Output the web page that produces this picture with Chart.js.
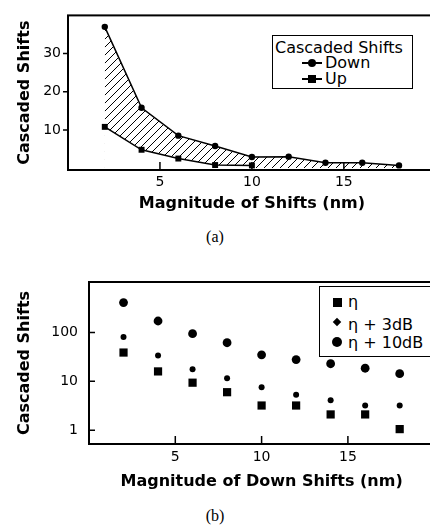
<!DOCTYPE html>
<html lang="en">
<head>
  <meta charset="UTF-8">
  <title>Cascaded Shifts</title>
  <script src="https://cdn.jsdelivr.net/npm/chart.js"></script>
  <style>
    html, body { margin: 0; padding: 0; background: #fff; overflow: hidden; }
    body { width: 430px; height: 529px; position: relative; font-family: "DejaVu Sans", sans-serif; color: #000; }
    .abs { position: absolute; }
    canvas { display: block; }
    .cap { font-family: "Liberation Serif", "Times New Roman", serif; font-size: 16px; width: 430px; text-align: center; }
    .legend { border: 1.5px solid #000; background: #fff; box-sizing: border-box; }
    .row { position: absolute; left: 0; white-space: nowrap; font-size: 16px; line-height: 16px; }
    .mk { position: absolute; background: #000; }
  </style>
</head>
<body>
  <canvas id="chartA" class="abs" style="left:0px;top:0px" width="440" height="218"></canvas>
  <canvas id="chartB" class="abs" style="left:0px;top:250px" width="440" height="250"></canvas>

  <!-- legend (a) -->
  <div class="abs legend" style="left:272px;top:35px;width:141px;height:54px">
    <div class="row" style="left:2px;top:4px">Cascaded Shifts</div>
    <div class="mk" style="left:29px;top:26px;width:20px;height:1.5px"></div>
    <div class="mk" style="left:35px;top:23px;width:8px;height:8px;border-radius:50%"></div>
    <div class="row" style="left:52px;top:19px">Down</div>
    <div class="mk" style="left:29px;top:42px;width:20px;height:1.5px"></div>
    <div class="mk" style="left:35px;top:39px;width:8px;height:8px"></div>
    <div class="row" style="left:52px;top:35px">Up</div>
  </div>
  <div class="abs cap" style="left:0px;top:228px">(a)</div>

  <!-- legend (b) -->
  <div class="abs legend" style="left:319px;top:286px;width:130px;height:71px">
    <div class="mk" style="left:13px;top:11px;width:9px;height:9px"></div>
    <div class="row" style="left:28px;top:7px">η</div>
    <div class="mk" style="left:14px;top:32px;width:6px;height:6px;transform:rotate(45deg)"></div>
    <div class="row" style="left:28px;top:30px">η + 3dB</div>
    <div class="mk" style="left:12px;top:50px;width:10px;height:10px;border-radius:50%"></div>
    <div class="row" style="left:28px;top:48px">η + 10dB</div>
  </div>
  <div class="abs cap" style="left:0px;top:507px">(b)</div>

  <script>
    // chart (a)
    const shiftsA = [2, 4, 6, 8, 10, 12, 14, 16, 18];
    const downA = [37, 15.8, 8.5, 5.8, 2.9, 3, 1.4, 1.4, 0.7];
    const upShifts = [2, 4, 6, 8, 10];
    const upA = [10.8, 4.8, 2.5, 0.8, 0.7];
    const yTicksA = [10, 20, 30];

    // chart (b)
    const shiftsB = [2, 4, 6, 8, 10, 12, 14, 16, 18];
    const eta = [39, 16, 9.4, 6, 3.2, 3.2, 2.1, 2.1, 1.05];
    const eta3 = [81, 34, 17.7, 11.6, 7.6, 5.3, 4.1, 3.2, 3.2];
    const eta10 = [412, 173, 95, 62, 35, 28, 23, 18.6, 14.4];
    const yTicksB = [1, 10, 100];

    const xTicks = [5, 10, 15];

    Chart.defaults.font.family = '"DejaVu Sans", sans-serif';
    Chart.defaults.color = '#000';

    const pts = (xs, ys) => xs.map((x, i) => ({ x: x, y: ys[i] }));

    function hatch() {
      const c = document.createElement('canvas');
      c.width = 8; c.height = 8;
      const g = c.getContext('2d');
      g.strokeStyle = '#000';
      g.lineWidth = 1;
      g.beginPath();
      g.moveTo(0, 8); g.lineTo(8, 0);
      g.moveTo(-1, 1); g.lineTo(1, -1);
      g.moveTo(7, 9); g.lineTo(9, 7);
      g.stroke();
      return g.createPattern(c, 'repeat');
    }

    // box round the plot and inward / outward tick marks
    const frame = {
      id: 'frame',
      afterDraw(chart, args, opts) {
        const { ctx, chartArea: a, scales } = chart;
        ctx.save();
        ctx.strokeStyle = '#000';
        ctx.lineWidth = 2;
        ctx.strokeRect(a.left, a.top, a.right - a.left, a.bottom - a.top);
        ctx.lineWidth = 1.5;
        ctx.beginPath();
        opts.xTicks.forEach(v => {
          const px = scales.x.getPixelForValue(v);
          ctx.moveTo(px, a.bottom);
          ctx.lineTo(px, a.bottom - opts.xLen);
        });
        opts.yTicks.forEach(v => {
          const py = scales.y.getPixelForValue(v);
          ctx.moveTo(a.left, py);
          ctx.lineTo(a.left + opts.yLen, py);
        });
        ctx.stroke();
        ctx.restore();
      }
    };

    new Chart(document.getElementById('chartA'), {
      type: 'line',
      data: {
        datasets: [
          {
            label: 'Up',
            data: pts(upShifts, upA),
            borderColor: '#000',
            borderWidth: 1.5,
            backgroundColor: '#fff',
            fill: 'origin',
            pointStyle: 'rect',
            pointRadius: 4.2,
            pointBackgroundColor: '#000',
            pointBorderWidth: 0,
            tension: 0,
            clip: false
          },
          {
            label: 'Down',
            data: pts(shiftsA, downA),
            borderColor: '#000',
            borderWidth: 1.5,
            backgroundColor: hatch(),
            fill: 'origin',
            pointStyle: 'circle',
            pointRadius: 3.2,
            pointBackgroundColor: '#000',
            pointBorderWidth: 0,
            tension: 0,
            clip: false
          }
        ]
      },
      options: {
        responsive: false,
        animation: false,
        layout: { padding: { top: 8, right: 4, left: 0, bottom: 0 } },
        plugins: {
          legend: { display: false },
          tooltip: { enabled: false },
          frame: { xTicks: xTicks, yTicks: yTicksA, xLen: 8, yLen: -5 }
        },
        scales: {
          x: {
            type: 'linear', min: 0, max: 20,
            grid: { display: false, drawTicks: false },
            border: { display: false },
            afterBuildTicks: s => { s.ticks = xTicks.map(value => ({ value })); },
            afterFit: s => { s.height = 48; },
            ticks: { font: { size: 14 }, padding: 4 },
            title: { display: true, text: 'Magnitude of Shifts (nm)', font: { size: 16, weight: 'bold' }, padding: { top: 0, bottom: 5 } }
          },
          y: {
            min: -0.5, max: 40,
            grid: { display: false, drawTicks: false },
            border: { display: false },
            afterBuildTicks: s => { s.ticks = yTicksA.map(value => ({ value })); },
            afterFit: s => { s.width = 68; },
            ticks: { font: { size: 14 }, padding: 7 },
            title: { display: true, text: 'Cascaded Shifts', font: { size: 16, weight: 'bold' }, padding: { top: 15, bottom: 0 } }
          }
        }
      },
      plugins: [frame]
    });

    new Chart(document.getElementById('chartB'), {
      type: 'scatter',
      data: {
        datasets: [
          {
            label: 'η',
            data: pts(shiftsB, eta),
            pointStyle: 'rect',
            pointRadius: 5.8,
            backgroundColor: '#000',
            borderWidth: 0,
            clip: false
          },
          {
            label: 'η + 3dB',
            data: pts(shiftsB, eta3),
            pointStyle: 'circle',
            pointRadius: 3,
            backgroundColor: '#000',
            borderWidth: 0,
            clip: false
          },
          {
            label: 'η + 10dB',
            data: pts(shiftsB, eta10),
            pointStyle: 'circle',
            pointRadius: 4.4,
            backgroundColor: '#000',
            borderWidth: 0,
            clip: false
          }
        ]
      },
      options: {
        responsive: false,
        animation: false,
        layout: { padding: { top: 32, right: 4, left: 0, bottom: 0 } },
        plugins: {
          legend: { display: false },
          tooltip: { enabled: false },
          frame: { xTicks: xTicks, yTicks: yTicksB, xLen: 8, yLen: 6 }
        },
        scales: {
          x: {
            type: 'linear', min: 0, max: 20,
            grid: { display: false, drawTicks: false },
            border: { display: false },
            afterBuildTicks: s => { s.ticks = xTicks.map(value => ({ value })); },
            afterFit: s => { s.height = 56; },
            ticks: { font: { size: 14 }, padding: 5 },
            title: { display: true, text: 'Magnitude of Down Shifts (nm)', font: { size: 16, weight: 'bold' }, padding: { top: 0, bottom: 9 } }
          },
          y: {
            type: 'logarithmic', min: 0.52, max: 1090,
            grid: { display: false, drawTicks: false },
            border: { display: false },
            afterBuildTicks: s => { s.ticks = yTicksB.map(value => ({ value })); },
            afterFit: s => { s.width = 89; },
            ticks: { font: { size: 14 }, padding: 11, callback: v => String(v) },
            title: { display: true, text: 'Cascaded Shifts', font: { size: 16, weight: 'bold' }, padding: { top: 15, bottom: 0 } }
          }
        }
      },
      plugins: [frame]
    });
  </script>
</body>
</html>
